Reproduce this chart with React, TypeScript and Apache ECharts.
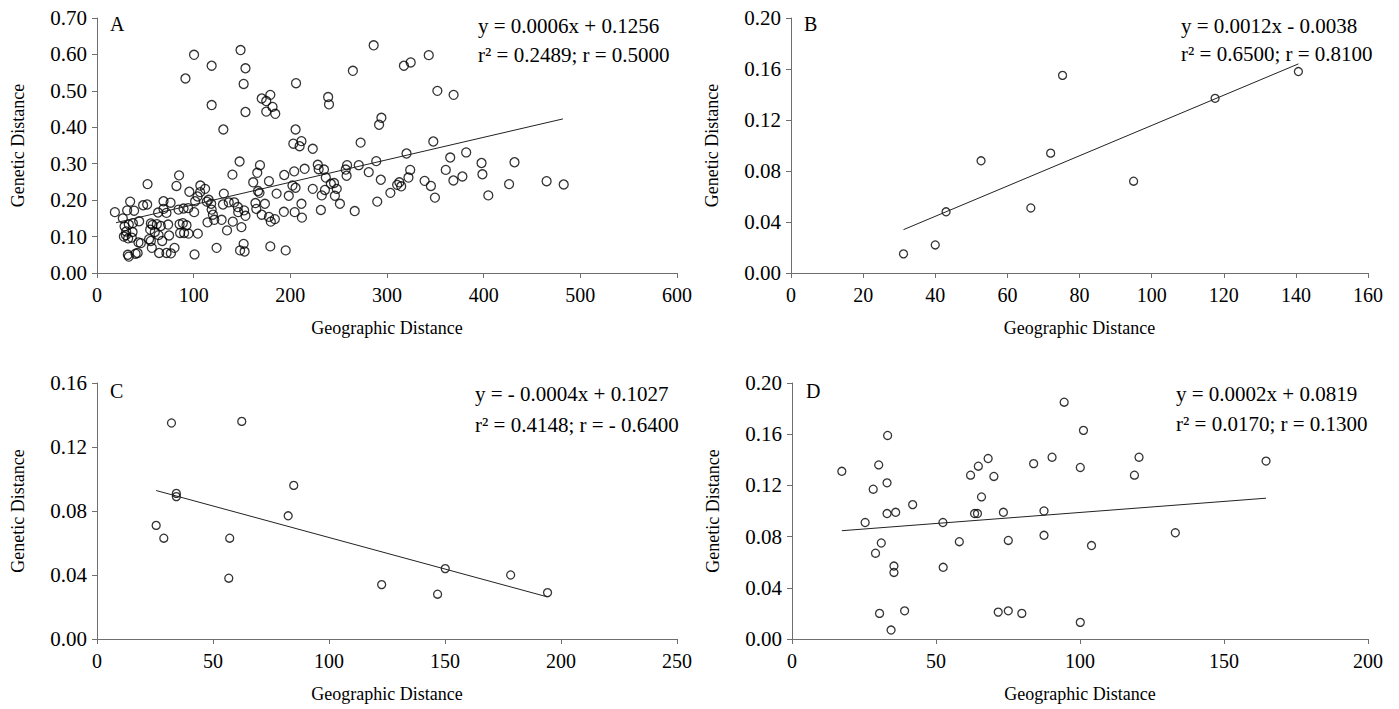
import React, { useEffect, useRef } from "react";
import * as echarts from "echarts";

// Panel A: geographic distance vs genetic distance
const pointsA: number[][] = [
  [100.4, 0.599], [91.5, 0.534], [118.6, 0.569], [118.6, 0.461], [130.7, 0.394], [148.5, 0.612],
  [153.6, 0.562], [151.7, 0.519], [153.6, 0.442], [170.4, 0.479], [175.1, 0.472], [179.3, 0.489],
  [175.1, 0.443], [181.6, 0.456], [184.4, 0.437], [205.9, 0.521], [205.4, 0.394], [203.1, 0.355],
  [211.5, 0.362], [209.6, 0.348], [223.2, 0.341], [239.1, 0.483], [240.0, 0.463], [264.7, 0.555],
  [272.7, 0.358], [286.2, 0.625], [291.8, 0.407], [294.2, 0.426], [317.5, 0.569], [324.5, 0.578],
  [343.2, 0.598], [352.1, 0.5], [368.9, 0.489], [347.9, 0.361], [320.2, 0.328], [381.9, 0.331],
  [18.5, 0.167], [26.7, 0.15], [28.5, 0.128], [27.8, 0.1], [29.9, 0.104], [30.2, 0.114], [31.2, 0.172],
  [32.2, 0.095], [32.9, 0.133], [34.3, 0.196], [36.0, 0.097], [36.8, 0.1125], [37.1, 0.137], [38.4, 0.171],
  [31.9, 0.05], [32.9, 0.045], [39.9, 0.053], [42.0, 0.055], [43.6, 0.142], [42.9, 0.084], [45.3, 0.082],
  [47.7, 0.186], [51.9, 0.188], [52.3, 0.244], [53.9, 0.093], [55.0, 0.119], [55.7, 0.136], [55.7, 0.088],
  [56.7, 0.069], [57.4, 0.132], [59.8, 0.1125], [61.9, 0.134], [63.2, 0.166], [63.7, 0.104], [64.3, 0.055],
  [66.0, 0.129], [67.4, 0.088], [68.8, 0.197], [68.8, 0.176], [71.9, 0.165], [71.9, 0.055], [73.6, 0.133],
  [74.6, 0.103], [76.1, 0.193], [76.4, 0.054], [80.2, 0.069], [82.2, 0.239], [84.9, 0.268], [84.3, 0.174],
  [85.4, 0.134], [86.0, 0.11], [88.8, 0.137], [89.5, 0.177], [90.1, 0.11], [92.6, 0.131], [94.3, 0.178],
  [94.7, 0.108], [95.5, 0.223], [100.5, 0.167], [100.9, 0.051], [101.5, 0.197], [104.0, 0.21], [104.3, 0.108],
  [106.9, 0.24], [106.7, 0.222], [111.8, 0.231], [113.6, 0.196], [114.3, 0.139], [115.5, 0.201],
  [118.6, 0.174], [118.1, 0.19], [119.9, 0.16], [121.3, 0.146], [123.7, 0.069],
  [128.9, 0.146], [131.2, 0.218], [130.3, 0.188], [134.5, 0.117], [136.3, 0.194], [140.1, 0.27],
  [140.5, 0.141], [141.9, 0.194], [145.7, 0.181], [146.1, 0.167], [147.5, 0.306], [148.0, 0.062],
  [149.4, 0.126], [151.7, 0.08], [152.7, 0.059], [152.2, 0.172], [153.6, 0.157], [161.6, 0.249],
  [163.9, 0.192], [164.8, 0.176], [165.8, 0.275], [168.6, 0.296], [168.1, 0.22], [166.6, 0.225],
  [170.4, 0.16], [173.7, 0.19], [177.9, 0.252], [177.9, 0.154], [179.3, 0.073], [179.8, 0.141],
  [184.0, 0.148], [185.8, 0.218], [193.7, 0.269], [193.3, 0.168], [195.2, 0.062], [198.4, 0.212],
  [202.2, 0.24], [204.0, 0.279], [204.5, 0.167], [205.4, 0.234], [211.5, 0.19], [212.0, 0.152],
  [214.8, 0.286], [223.2, 0.231], [228.4, 0.297], [229.3, 0.285], [231.6, 0.173], [232.5, 0.213],
  [234.8, 0.284], [235.8, 0.228], [236.7, 0.262], [241.9, 0.245], [245.2, 0.247], [246.1, 0.212],
  [248.0, 0.231], [251.3, 0.19], [257.3, 0.284], [258.7, 0.296], [258.2, 0.267], [266.6, 0.17],
  [270.8, 0.296], [281.1, 0.277], [288.9, 0.307], [289.9, 0.196], [293.6, 0.256], [303.5, 0.22],
  [310.5, 0.242], [312.8, 0.249], [314.7, 0.238], [322.2, 0.262], [324.0, 0.283], [338.9, 0.253],
  [345.4, 0.239], [349.6, 0.207], [360.8, 0.283], [365.4, 0.317], [368.7, 0.254], [378.0, 0.265],
  [397.8, 0.302], [398.7, 0.271], [404.8, 0.213], [426.3, 0.244], [431.9, 0.304], [465.1, 0.252],
  [482.8, 0.243],
];
const trendA: number[][] = [[19.6, 0.138], [482, 0.423]];

const pointsB: number[][] = [
  [31.2, 0.015], [40.0, 0.022], [43.0, 0.048], [52.7, 0.088], [66.5, 0.051], [72.0, 0.094],
  [75.3, 0.155], [95.0, 0.072], [117.6, 0.137], [140.7, 0.158],
];
const trendB: number[][] = [[31.2, 0.034], [140.7, 0.164]];

const pointsC: number[][] = [
  [25.5, 0.071], [28.8, 0.063], [32.1, 0.135], [34.2, 0.091], [34.2, 0.089], [57.2, 0.063],
  [56.8, 0.038], [62.4, 0.136], [82.4, 0.077], [84.8, 0.096], [122.7, 0.034], [146.8, 0.028],
  [150.1, 0.044], [178.3, 0.04], [194.2, 0.029],
];
const trendC: number[][] = [[25.5, 0.0928], [194.2, 0.0263]];

const pointsD: number[][] = [
  [17.3, 0.131], [25.4, 0.091], [28.2, 0.117], [29.0, 0.067], [30.1, 0.136], [30.4, 0.02],
  [31.0, 0.075], [33.2, 0.159], [33.0, 0.122], [33.0, 0.098], [34.4, 0.007], [35.4, 0.057],
  [35.4, 0.052], [36.0, 0.099], [39.1, 0.022], [41.9, 0.105], [52.4, 0.091], [52.5, 0.056],
  [58.1, 0.076], [62.0, 0.128], [63.4, 0.098], [64.4, 0.098], [64.7, 0.135], [65.8, 0.111],
  [68.1, 0.141], [70.1, 0.127], [71.6, 0.021], [73.4, 0.099], [75.1, 0.077], [75.1, 0.022],
  [79.8, 0.02], [83.9, 0.137], [87.5, 0.1], [87.5, 0.081], [90.3, 0.142], [94.5, 0.185],
  [100.1, 0.134], [100.1, 0.013], [101.2, 0.163], [104.0, 0.073], [118.9, 0.128], [120.5, 0.142],
  [133.1, 0.083], [164.6, 0.139],
];
const trendD: number[][] = [[17.3, 0.0846], [164.6, 0.11]];

const panelLabels = ["A", "B", "C", "D"];
const equations = [
  ["y = 0.0006x + 0.1256", "r² = 0.2489; r = 0.5000"],
  ["y = 0.0012x - 0.0038", "r² = 0.6500; r = 0.8100"],
  ["y = - 0.0004x + 0.1027", "r² = 0.4148; r = - 0.6400"],
  ["y = 0.0002x + 0.0819", "r² = 0.0170; r = 0.1300"],
];
const xMax = [600, 160, 250, 200];
const xInterval = [100, 20, 50, 50];
const yMax = [0.7, 0.2, 0.16, 0.2];
const yInterval = [0.1, 0.04, 0.04, 0.04];
const xTitle = "Geographic Distance";
const yTitle = "Genetic Distance";

const FONT = '"Liberation Serif", "Times New Roman", serif';

export default function App() {
  const ref = useRef<HTMLDivElement>(null);
  useEffect(() => {
    if (!ref.current) return;
    const chart = echarts.init(ref.current, null, { renderer: "svg" });
    const grids = [
      { left: 97, top: 18, width: 580, height: 255 },
      { left: 791, top: 18, width: 577, height: 255 },
      { left: 97, top: 383, width: 580, height: 256 },
      { left: 792, top: 383, width: 576, height: 256 },
    ];
    const pts = [pointsA, pointsB, pointsC, pointsD];
    const trends = [trendA, trendB, trendC, trendD];
    const symSize = [9, 8, 8, 8];
    const axisColor = "#6e6e6e";
    const xAxes = grids.map((_, i) => ({
      type: "value",
      gridIndex: i,
      min: 0,
      max: xMax[i],
      interval: xInterval[i],
      name: xTitle,
      nameLocation: "middle",
      nameGap: 46,
      nameTextStyle: { fontFamily: FONT, fontSize: 18, color: "#000" },
      axisLine: { show: true, lineStyle: { color: axisColor, width: 1 } },
      axisTick: { show: true, inside: false, length: 5, lineStyle: { color: axisColor } },
      axisLabel: { fontFamily: FONT, fontSize: 20, color: "#000", margin: 12 },
      splitLine: { show: false },
    }));
    const yAxes = grids.map((_, i) => ({
      type: "value",
      gridIndex: i,
      min: 0,
      max: yMax[i],
      interval: yInterval[i],
      name: yTitle,
      nameLocation: "middle",
      nameRotate: 90,
      nameGap: 70,
      nameTextStyle: { fontFamily: FONT, fontSize: 18, color: "#000" },
      axisLine: { show: true, lineStyle: { color: axisColor, width: 1 } },
      axisTick: { show: true, inside: false, length: 5, lineStyle: { color: axisColor } },
      axisLabel: {
        fontFamily: FONT,
        fontSize: 21,
        color: "#000",
        margin: 10,
        formatter: (v: number) => v.toFixed(2),
      },
      splitLine: { show: false },
    }));
    const series: any[] = [];
    pts.forEach((p, i) => {
      series.push({
        type: "scatter",
        xAxisIndex: i,
        yAxisIndex: i,
        data: p,
        symbol: "circle",
        symbolSize: symSize[i],
        itemStyle: { color: "rgba(255,255,255,0)", borderColor: "#000", borderWidth: 1.3 },
        silent: true,
      });
      series.push({
        type: "line",
        xAxisIndex: i,
        yAxisIndex: i,
        data: trends[i],
        symbol: "none",
        lineStyle: { color: "#222", width: 1 },
        silent: true,
      });
    });
    const labelPos = [
      [110, 25], [804, 25], [110, 392], [806, 392],
    ];
    const eqPos = [
      [478, 27, 56], [1181, 27, 55], [475, 395, 426], [1176, 395, 425],
    ];
    const graphic: any[] = [];
    panelLabels.forEach((t, i) => {
      graphic.push({
        type: "text",
        left: labelPos[i][0],
        top: labelPos[i][1] - 11,
        style: { text: t, font: `20px ${FONT}`, fill: "#000" },
      });
      equations[i].forEach((line, j) => {
        graphic.push({
          type: "text",
          left: eqPos[i][0],
          top: eqPos[i][1 + j] - 12,
          style: { text: line, font: `21px ${FONT}`, fill: "#000" },
        });
      });
    });
    chart.setOption({
      animation: false,
      backgroundColor: "#fff",
      grid: grids,
      xAxis: xAxes,
      yAxis: yAxes,
      series,
      graphic,
    });
    return () => chart.dispose();
  }, []);
  return (
    <div
      ref={ref}
      style={{ position: "absolute", left: 0, top: 0, width: 1399, height: 709 }}
    />
  );
}
